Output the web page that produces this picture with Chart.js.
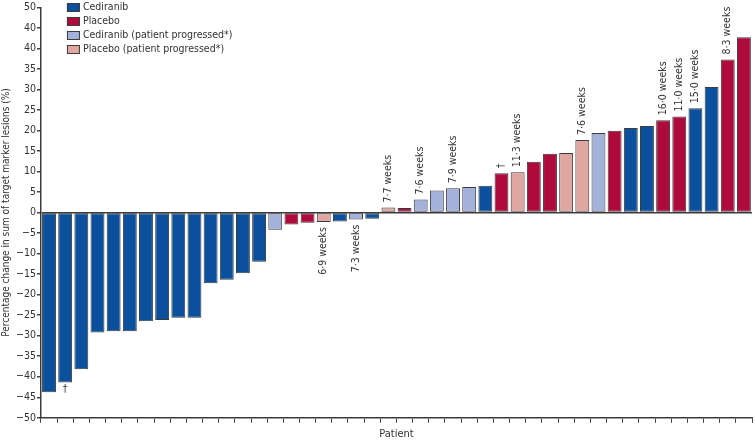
<!DOCTYPE html>
<html>
<head>
<meta charset="utf-8">
<script src="https://cdn.jsdelivr.net/npm/chart.js@4.4.1/dist/chart.umd.min.js"></script>
<style>
  html, body { margin: 0; padding: 0; background: #fff; }
  #wrap { width: 755px; height: 441px; position: relative; }
</style>
</head>
<body>
<div id="wrap"><canvas id="waterfall"></canvas></div>
<script>
const patients = [1, 2, 3, 4, 5, 6, 7, 8, 9, 10, 11, 12, 13, 14, 15, 16, 17, 18, 19, 20, 21, 22,
    23, 24, 25, 26, 27, 28, 29, 30, 31, 32, 33, 34, 35, 36, 37, 38, 39, 40, 41, 42, 43, 44];

// percentage change in sum of target marker lesions, one per patient
const changes = [-43.8, -41.4, -38.2, -29.2, -28.9, -28.9, -26.5, -26.2, -25.6, -25.6, -17.2,
    -16.4, -14.8, -12.0, -4.2, -2.9, -2.5, -2.3, -2.2, -1.7, -1.5, 1.2, 1.1, 3.2, 5.4, 5.9, 6.2,
    6.5, 9.6, 9.8, 12.4, 14.3, 14.5, 17.7, 19.4, 19.9, 20.6, 21.1, 22.5, 23.4, 25.4, 30.6, 37.3, 42.7];

// 0 cediranib, 1 placebo, 2 cediranib (progressed), 3 placebo (progressed)
const groups = [0, 0, 0, 0, 0, 0, 0, 0, 0, 0, 0, 0, 0, 0, 2, 1, 1, 3, 0, 2, 0, 3, 1, 2, 2, 2, 2,
    0, 1, 3, 1, 1, 3, 3, 2, 1, 0, 0, 1, 1, 0, 0, 1, 1];

const notes = ['', '†', '', '', '', '', '', '', '', '', '', '', '', '', '', '', '', '6·9 weeks', '',
    '7·3 weeks', '', '7·7 weeks', '', '7·6 weeks', '', '7·9 weeks', '', '', '†', '11·3 weeks', '',
    '', '', '7·6 weeks', '', '', '', '', '16·0 weeks', '11·0 weeks', '15·0 weeks', '', '8·3 weeks', ''];

const seriesNames = ['Cediranib', 'Placebo', 'Cediranib (patient progressed*)', 'Placebo (patient progressed*)'];
const seriesColors = ['#0a509d', '#af0a3c', '#a2b2da', '#e0a6a2'];

// y tick labels as printed, top to bottom
const yTickLabels = ['50', '40', '40', '35', '30', '25', '20', '15', '10', '5', '0', '−5', '−10',
    '−15', '−20', '−25', '−30', '−35', '−40', '−45', '−50'];

const FONT = "'Liberation Sans Narrow', 'DejaVu Sans Condensed', 'Liberation Sans', sans-serif";
const INK = '#333';
const EDGE = '#3c3c3c';

Chart.defaults.font.family = FONT;
Chart.defaults.font.size = 10.5;
Chart.defaults.color = INK;

const datasets = seriesNames.map(function(name, g) {
    return {
        label: name,
        data: changes.map((v, i) => groups[i] === g ? v : null),
        backgroundColor: seriesColors[g],
        borderColor: EDGE,
        borderWidth: 1,
        borderSkipped: false,
        categoryPercentage: 1,
        barPercentage: 0.86
    };
});

// rotated duration notes and daggers next to bar ends
const notesPlugin = {
    id: 'notes',
    afterDatasetsDraw(chart) {
        const ctx = chart.ctx;
        const x = chart.scales.x;
        const y = chart.scales.y;
        notes.forEach(function(t, i) {
            if (!t) return;
            const v = changes[i];
            const px = x.getPixelForValue(i);
            const py = y.getPixelForValue(v);
            ctx.save();
            ctx.font = '10.5px ' + FONT;
            ctx.fillStyle = INK;
            if (t === '†' && v < 0) {
                ctx.textAlign = 'center';
                ctx.textBaseline = 'top';
                ctx.fillText(t, px, py + 2);
            } else {
                ctx.translate(px, v < 0 ? py + 5 : py - 5);
                ctx.rotate(-Math.PI / 2);
                ctx.textAlign = v < 0 ? 'right' : 'left';
                ctx.textBaseline = 'middle';
                ctx.fillText(t, 0, 0);
            }
            ctx.restore();
        });
    }
};

// legend box in the top left corner of the plot
const legendPlugin = {
    id: 'cornerLegend',
    afterDraw(chart) {
        const ctx = chart.ctx;
        const left = chart.chartArea.left + 26;
        ctx.save();
        ctx.font = '10.5px ' + FONT;
        ctx.textBaseline = 'middle';
        chart.data.datasets.forEach(function(ds, i) {
            const cy = 7 + i * 14;
            ctx.fillStyle = ds.backgroundColor;
            ctx.fillRect(left, cy - 4, 13, 8);
            ctx.strokeStyle = EDGE;
            ctx.lineWidth = 1;
            ctx.strokeRect(left + 0.5, cy - 4 + 0.5, 12, 8);
            ctx.fillStyle = INK;
            ctx.fillText(ds.label, left + 16, cy);
        });
        ctx.restore();
    }
};

new Chart(document.getElementById('waterfall'), {
    type: 'bar',
    data: { labels: patients, datasets: datasets },
    plugins: [notesPlugin, legendPlugin],
    options: {
        responsive: true,
        maintainAspectRatio: false,
        animation: false,
        layout: { padding: { top: 0, right: 3, left: 0, bottom: 0 } },
        plugins: {
            legend: { display: false },
            tooltip: { enabled: false }
        },
        scales: {
            x: {
                stacked: true,
                border: { display: true, color: EDGE, width: 1.5 },
                grid: {
                    offset: true,
                    drawOnChartArea: false,
                    drawTicks: true,
                    tickLength: 5,
                    color: '#444'
                },
                ticks: { display: false },
                title: {
                    display: true,
                    text: 'Patient',
                    font: { size: 11 },
                    padding: { top: 5, bottom: 0 }
                }
            },
            y: {
                stacked: true,
                min: -50,
                max: 50,
                border: { display: true, color: EDGE, width: 1.5 },
                grid: {
                    drawTicks: true,
                    tickLength: 4,
                    tickColor: '#444',
                    lineWidth: 1.5,
                    color: ctx => ctx.tick && ctx.tick.value === 0 ? EDGE : 'rgba(0,0,0,0)'
                },
                ticks: {
                    stepSize: 5,
                    padding: 1,
                    callback: function(value, index, ticks) {
                        return yTickLabels[ticks.length - 1 - index];
                    }
                },
                title: {
                    display: true,
                    text: 'Percentage change in sum of target marker lesions (%)',
                    font: { size: 10 },
                    padding: { top: 0, bottom: 3 }
                }
            }
        }
    }
});
</script>
</body>
</html>
